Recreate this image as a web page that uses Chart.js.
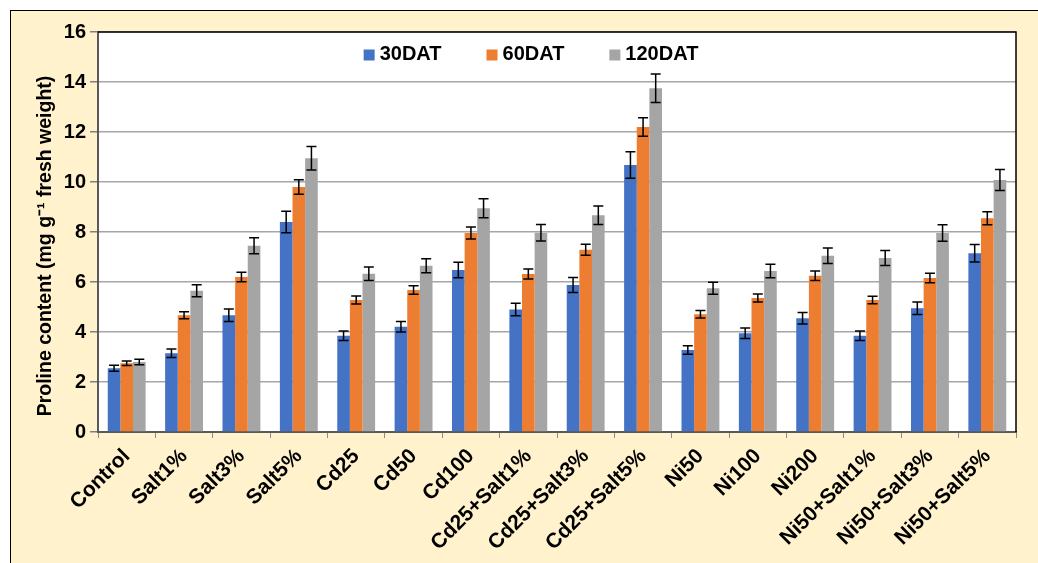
<!DOCTYPE html>
<html>
<head>
<meta charset="utf-8">
<script src="https://cdn.jsdelivr.net/npm/chart.js@4.4.1/dist/chart.umd.min.js"></script>
<style>
  html, body { margin: 0; padding: 0; background: #ffffff; }
  #frame {
    position: absolute; left: 10px; top: 10px; width: 1100px; height: 600px;
    background: #FFF2CC; border-left: 1.5px solid #000; border-top: 1.5px solid #000;
  }
  #wrap { position: absolute; left: 0; top: 0; width: 1038px; height: 563px; }
</style>
</head>
<body>
<div id="frame"></div>
<div id="wrap"><canvas id="chart" width="1038" height="563"></canvas></div>
<script>
// Treatments
const categories = [
  'Control', 'Salt1%', 'Salt3%', 'Salt5%', 'Cd25', 'Cd50', 'Cd100',
  'Cd25+Salt1%', 'Cd25+Salt3%', 'Cd25+Salt5%', 'Ni50', 'Ni100', 'Ni200',
  'Ni50+Salt1%', 'Ni50+Salt3%', 'Ni50+Salt5%'
];

// Proline content (mg g-1 fresh weight) by sampling day
const dat30  = [2.55, 3.15, 4.67, 8.40, 3.85, 4.21, 6.48, 4.90, 5.88, 10.68, 3.28, 3.95, 4.55, 3.85, 4.95, 7.15];
const dat60  = [2.75, 4.67, 6.20, 9.80, 5.28, 5.68, 7.96, 6.32, 7.29, 12.20, 4.71, 5.36, 6.25, 5.28, 6.16, 8.55];
const dat120 = [2.80, 5.65, 7.45, 10.95, 6.33, 6.65, 8.95, 7.97, 8.67, 13.75, 5.75, 6.44, 7.05, 6.96, 7.96, 10.08];

// Standard errors
const err30  = [0.12, 0.17, 0.25, 0.43, 0.19, 0.21, 0.31, 0.25, 0.30, 0.53, 0.17, 0.21, 0.23, 0.19, 0.25, 0.35];
const err60  = [0.09, 0.14, 0.19, 0.29, 0.16, 0.17, 0.24, 0.20, 0.22, 0.37, 0.15, 0.16, 0.19, 0.15, 0.19, 0.26];
const err120 = [0.11, 0.24, 0.32, 0.47, 0.27, 0.28, 0.38, 0.33, 0.37, 0.57, 0.24, 0.27, 0.31, 0.30, 0.33, 0.42];

const seriesNames = ['30DAT', '60DAT', '120DAT'];
const yTicks = [0, 2, 4, 6, 8, 10, 12, 14, 16];
const yTitle = 'Proline content (mg g\u207B\u00B9 fresh weight)';

const FONT = "'Liberation Sans', Arial, sans-serif";

// White plot background plus black top/right frame
const plotFrame = {
  id: 'plotFrame',
  beforeDraw(chart) {
    const { ctx, chartArea: a } = chart;
    ctx.save();
    ctx.fillStyle = '#ffffff';
    ctx.fillRect(a.left, a.top, a.right - a.left, a.bottom - a.top);
    ctx.restore();
  },
  afterDraw(chart) {
    const { ctx, chartArea: a } = chart;
    ctx.save();
    ctx.strokeStyle = '#000000';
    ctx.lineWidth = 1.5;
    ctx.beginPath();
    ctx.moveTo(a.left, a.top);
    ctx.lineTo(a.right, a.top);
    ctx.lineTo(a.right, a.bottom);
    ctx.stroke();
    ctx.restore();
  }
};

// Vertical axis title, set slightly below the axis centre
const axisTitle = {
  id: 'axisTitle',
  afterDraw(chart) {
    const { ctx, chartArea: a } = chart;
    ctx.save();
    ctx.translate(46, (a.top + a.bottom) / 2 + 14);
    ctx.rotate(-Math.PI / 2);
    ctx.font = `bold 19.5px ${FONT}`;
    ctx.fillStyle = '#000000';
    ctx.textAlign = 'center';
    ctx.textBaseline = 'middle';
    ctx.fillText(yTitle, 0, 0);
    ctx.restore();
  }
};

// Error bars with caps, one per bar
const errorBars = {
  id: 'errorBars',
  afterDatasetsDraw(chart) {
    const { ctx } = chart;
    const y = chart.scales.y;
    ctx.save();
    ctx.strokeStyle = '#000000';
    ctx.lineWidth = 1.5;
    chart.data.datasets.forEach((ds, i) => {
      const meta = chart.getDatasetMeta(i);
      meta.data.forEach((bar, j) => {
        const v = ds.data[j], e = ds.errors[j];
        const yt = y.getPixelForValue(v + e);
        const yb = y.getPixelForValue(v - e);
        const x = bar.x, cap = 5;
        ctx.beginPath();
        ctx.moveTo(x, yt); ctx.lineTo(x, yb);
        ctx.moveTo(x - cap, yt); ctx.lineTo(x + cap, yt);
        ctx.moveTo(x - cap, yb); ctx.lineTo(x + cap, yb);
        ctx.stroke();
      });
    });
    ctx.restore();
  }
};

// Legend drawn inside the top of the plot area
const innerLegend = {
  id: 'innerLegend',
  afterDraw(chart) {
    const { ctx, chartArea: a } = chart;
    ctx.save();
    ctx.font = `bold 20px ${FONT}`;
    ctx.textBaseline = 'middle';
    ctx.textAlign = 'left';
    const box = 11, boxGap = 5, itemGap = 45;
    const items = chart.data.datasets.map(ds => ({
      label: ds.label, color: ds.backgroundColor, w: ctx.measureText(ds.label).width
    }));
    const total = items.reduce((s, it) => s + box + boxGap + it.w, 0) + itemGap * (items.length - 1);
    const cx = (a.left + a.right) / 2 - 26;
    let x = cx - total / 2;
    const yc = a.top + 22;
    items.forEach(it => {
      ctx.fillStyle = it.color;
      ctx.fillRect(x, yc - box / 2 + 1, box, box);
      x += box + boxGap;
      ctx.fillStyle = '#000000';
      ctx.fillText(it.label, x, yc);
      x += it.w + itemGap;
    });
    ctx.restore();
  }
};

new Chart(document.getElementById('chart'), {
  type: 'bar',
  data: {
    labels: categories,
    datasets: [
      { label: seriesNames[0], data: dat30,  errors: err30,  backgroundColor: '#4472C4' },
      { label: seriesNames[1], data: dat60,  errors: err60,  backgroundColor: '#ED7D31' },
      { label: seriesNames[2], data: dat120, errors: err120, backgroundColor: '#A5A5A5' }
    ]
  },
  options: {
    responsive: false,
    animation: false,
    devicePixelRatio: 1,
    layout: { padding: { top: 32, right: 22, left: 0, bottom: 0 } },
    datasets: { bar: { categoryPercentage: 0.66, barPercentage: 1.0, borderWidth: 0 } },
    plugins: { legend: { display: false }, tooltip: { enabled: false } },
    scales: {
      x: {
        afterFit(scale) { scale.height = 131; },
        grid: { display: true, drawOnChartArea: false, drawTicks: true, tickLength: 6, tickColor: '#8c8c8c', offset: true },
        border: { display: true, color: '#595959', width: 2 },
        ticks: {
          autoSkip: false, minRotation: 45, maxRotation: 45, padding: 6,
          color: '#000000', font: { family: FONT, size: 21, weight: 'bold' }
        }
      },
      y: {
        min: 0, max: 16,
        afterFit(scale) { scale.width = 98; },
        afterBuildTicks(scale) { scale.ticks = yTicks.map(v => ({ value: v })); },
        grid: { color: '#A6A6A6', lineWidth: 1.5, tickLength: 8, tickColor: '#7f7f7f', drawTicks: true },
        border: { display: true, color: '#595959', width: 2 },
        ticks: { padding: 4, color: '#000000', font: { family: FONT, size: 20, weight: 'bold' } },
        title: { display: false }
      }
    }
  },
  plugins: [plotFrame, errorBars, innerLegend, axisTitle]
});
</script>
</body>
</html>
